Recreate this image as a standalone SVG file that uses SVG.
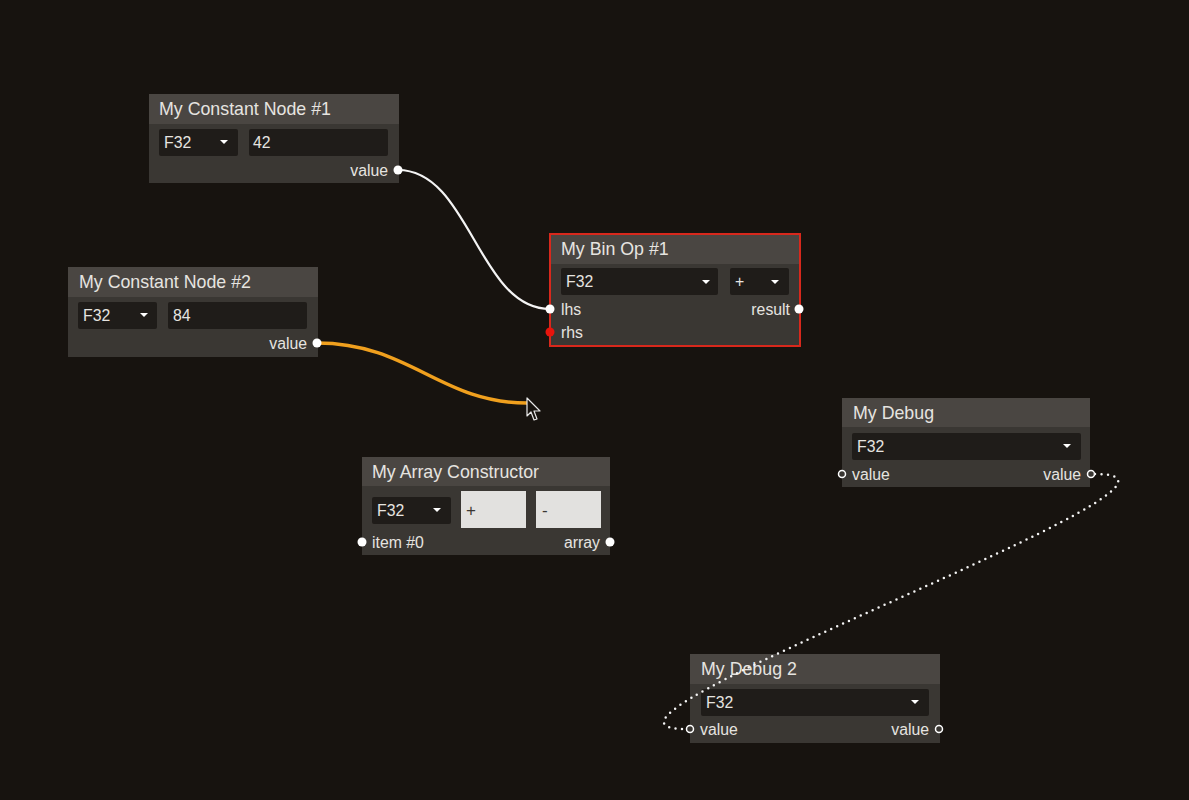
<svg xmlns="http://www.w3.org/2000/svg" width="1189" height="800" viewBox="0 0 1189 800">
<style>
.bg{fill:#17130f}
.body{fill:#3a3733}
.head{fill:#4a4642}
.title{font-family:"Liberation Sans",Arial,sans-serif;font-size:17.8px;fill:#e6e4e0}
.lbl{font-family:"Liberation Sans",Arial,sans-serif;font-size:15.8px;fill:#e6e4e0}
.lblr{font-family:"Liberation Sans",Arial,sans-serif;font-size:15.8px;fill:#e6e4e0;text-anchor:end}
.dd{fill:#1f1c19}
.btn{fill:#e2e1df}
.btxt{font-family:"Liberation Sans",Arial,sans-serif;font-size:17px;fill:#3a3733}
.port{fill:#ffffff}
.hport{fill:#3a3733;stroke:#ffffff;stroke-width:1.5}
.tri{fill:#ffffff}
</style>
<rect class="bg" x="0" y="0" width="1189" height="800"/>

<g id="connectors" fill="none" stroke-linecap="round">
  <path d="M398,170 C470,170 478,309 550,309" stroke="#f4f4f4" stroke-width="2.2"/>
  <path d="M317,343 C410,343 440,403 527,403" stroke="#f0a01e" stroke-width="3.5"/>
</g>

<g id="const1">
  <rect class="body" x="149" y="94" width="250" height="89"/>
  <rect class="head" x="149" y="94" width="250" height="30"/>
  <text class="title" x="159" y="115">My Constant Node #1</text>
  <rect class="dd" x="159" y="129" width="79" height="27" rx="2"/>
  <text class="lbl" x="164" y="148">F32</text>
  <path class="tri" d="M220,140 h8 l-4,4 z"/>
  <rect class="dd" x="249" y="129" width="139" height="27" rx="2"/>
  <text class="lbl" x="253" y="148">42</text>
  <text class="lblr" x="388" y="176">value</text>
  <circle class="port" cx="398" cy="170" r="4.5"/>
</g>

<g id="const2">
  <rect class="body" x="68" y="267" width="250" height="90"/>
  <rect class="head" x="68" y="267" width="250" height="30"/>
  <text class="title" x="79" y="288">My Constant Node #2</text>
  <rect class="dd" x="78" y="302" width="79" height="27" rx="2"/>
  <text class="lbl" x="83" y="321">F32</text>
  <path class="tri" d="M140,313 h8 l-4,4 z"/>
  <rect class="dd" x="168" y="302" width="139" height="27" rx="2"/>
  <text class="lbl" x="173" y="321">84</text>
  <text class="lblr" x="307" y="349">value</text>
  <circle class="port" cx="317" cy="343" r="4.5"/>
</g>

<g id="binop">
  <rect class="body" x="550" y="234" width="250" height="112"/>
  <rect class="head" x="550" y="234" width="250" height="30"/>
  <rect x="550" y="234" width="250" height="112" fill="none" stroke="#d8281c" stroke-width="2"/>
  <text class="title" x="561" y="255">My Bin Op #1</text>
  <rect class="dd" x="561" y="268" width="157" height="27" rx="2"/>
  <text class="lbl" x="566" y="287">F32</text>
  <path class="tri" d="M702,280 h8 l-4,4 z"/>
  <rect class="dd" x="730" y="268" width="59" height="27" rx="2"/>
  <text class="lbl" x="735" y="287">+</text>
  <path class="tri" d="M771,280 h8 l-4,4 z"/>
  <text class="lbl" x="561" y="315">lhs</text>
  <text class="lbl" x="561" y="338">rhs</text>
  <text class="lblr" x="790" y="315">result</text>
  <circle class="port" cx="550" cy="309" r="4.5"/>
  <circle cx="550" cy="332" r="4.5" fill="#e8140c"/>
  <circle class="port" cx="799" cy="309" r="4.5"/>
</g>

<g id="array">
  <rect class="body" x="362" y="457" width="248" height="98"/>
  <rect class="head" x="362" y="457" width="248" height="29"/>
  <text class="title" x="372" y="478">My Array Constructor</text>
  <rect class="dd" x="372" y="497" width="79" height="27" rx="2"/>
  <text class="lbl" x="377" y="516">F32</text>
  <path class="tri" d="M433,508 h8 l-4,4 z"/>
  <rect class="btn" x="461" y="491" width="65" height="37"/>
  <text class="btxt" x="466" y="516">+</text>
  <rect class="btn" x="536" y="491" width="65" height="37"/>
  <text class="btxt" x="542" y="516">-</text>
  <text class="lbl" x="372" y="548">item #0</text>
  <text class="lblr" x="600" y="548">array</text>
  <circle class="port" cx="362" cy="542" r="4.5"/>
  <circle class="port" cx="610" cy="542" r="4.5"/>
</g>

<g id="debug1">
  <rect class="body" x="842" y="398" width="248" height="89"/>
  <rect class="head" x="842" y="398" width="248" height="29"/>
  <text class="title" x="853" y="419">My Debug</text>
  <rect class="dd" x="852" y="433" width="229" height="27" rx="2"/>
  <text class="lbl" x="857" y="452">F32</text>
  <path class="tri" d="M1063,444 h8 l-4,4 z"/>
  <text class="lbl" x="852" y="480">value</text>
  <text class="lblr" x="1081" y="480">value</text>
  <circle class="hport" cx="842" cy="474" r="3.5"/>
  <circle class="hport" cx="1091" cy="474" r="3.5"/>
</g>

<g id="debug2">
  <rect class="body" x="690" y="654" width="250" height="89"/>
  <rect class="head" x="690" y="654" width="250" height="30"/>
  <text class="title" x="701" y="675">My Debug 2</text>
  <rect class="dd" x="701" y="689" width="228" height="27" rx="2"/>
  <text class="lbl" x="706" y="708">F32</text>
  <path class="tri" d="M911,700 h8 l-4,4 z"/>
  <text class="lbl" x="700" y="735">value</text>
  <text class="lblr" x="929" y="735">value</text>
  <circle class="hport" cx="690" cy="729" r="3.5"/>
  <circle class="hport" cx="939" cy="729" r="3.5"/>
</g>

<g id="connectors-top" fill="none" stroke-linecap="round">
  <path d="M1095,474 C1255,474 530,729 686,729" stroke="#f4f4f4" stroke-width="2.5" stroke-dasharray="0 6.5"/>
</g>

<g id="cursor">
  <path d="M527,398 L527,416 L531,412 L534,420 L537,419 L534,411 L540,411 Z" fill="#17130f" stroke="#e8e8e8" stroke-width="1.2" stroke-linejoin="round"/>
</g>
</svg>
